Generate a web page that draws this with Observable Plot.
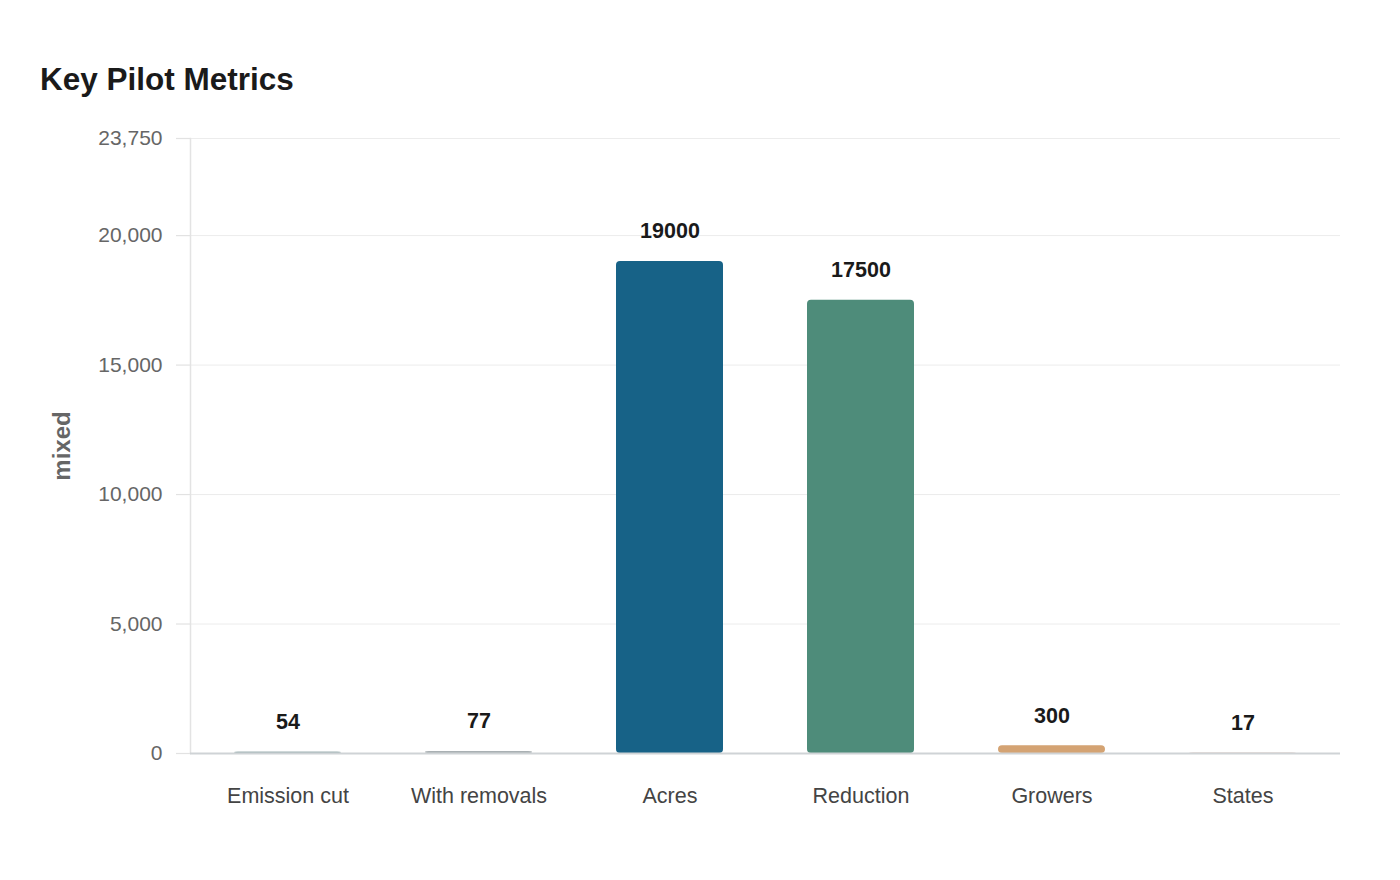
<!DOCTYPE html>
<html>
<head>
<meta charset="utf-8">
<script src="https://cdn.jsdelivr.net/npm/d3@7"></script>
<script src="https://cdn.jsdelivr.net/npm/@observablehq/plot@0.6"></script>
<style>
  body { margin: 0; background: #fff; font-family: "Liberation Sans", Arial, sans-serif; }
  #title { height: 110px; box-sizing: border-box; padding: 61px 0 0 40px; font-size: 31.5px; font-weight: bold; color: #1a1a1a; line-height: 36px; }
  #chart svg { display: block; }
</style>
</head>
<body>
<div id="title">Key Pilot Metrics</div>
<div id="chart"></div>
<script>
const categories = ["Emission cut", "With removals", "Acres", "Reduction", "Growers", "States"];
const values = [54, 77, 19000, 17500, 300, 17];
const colors = ["#9fb2b4", "#a9b0b3", "#176287", "#4e8c7a", "#d4a373", "#d8bfb7"];
const yTicks = [0, 5000, 10000, 15000, 20000, 23750];
const yLabel = "mixed";

const data = categories.map((c, i) => ({category: c, value: values[i], color: colors[i]}));

const chart = Plot.plot({
  width: 1400,
  height: 770,
  marginTop: 28,
  marginBottom: 127,
  marginLeft: 190,
  marginRight: 60,
  style: {fontFamily: '"Liberation Sans", Arial, sans-serif', fontSize: "21px", background: "#fff"},
  x: {domain: categories, paddingInner: 0.44, paddingOuter: 0.22, label: null},
  y: {domain: [0, 23750], label: null},
  marks: [
    Plot.ruleY(yTicks, {stroke: "#ececec", strokeWidth: 1}),
    Plot.frame({anchor: "left", stroke: "#e3e3e3", strokeWidth: 1.5}),
    Plot.barY(data, {x: "category", y: "value", fill: "color", rx: 4}),
    Plot.ruleY([0], {stroke: "#cfd3d6", strokeWidth: 2}),
    Plot.text(data, {x: "category", y: "value", text: d => String(d.value), dy: -30, fontWeight: "bold", fontSize: 21.5, fill: "#1a1a1a"}),
    Plot.axisY({ticks: yTicks, tickFormat: d3.format(","), tickSize: 14, stroke: "#e2e2e2", strokeOpacity: 1, strokeWidth: 1.2, tickPadding: 14, fill: "#666", fontSize: 21, label: null}),
    Plot.axisX({tickSize: 0, tickPadding: 34, fill: "#444", fontSize: 21.5, label: null}),
    Plot.text([yLabel], {frameAnchor: "left", textAnchor: "middle", dx: -128, rotate: -90, fontWeight: "bold", fontSize: 24, fill: "#666", text: d => d})
  ]
});
document.getElementById("chart").append(chart);
</script>
</body>
</html>
